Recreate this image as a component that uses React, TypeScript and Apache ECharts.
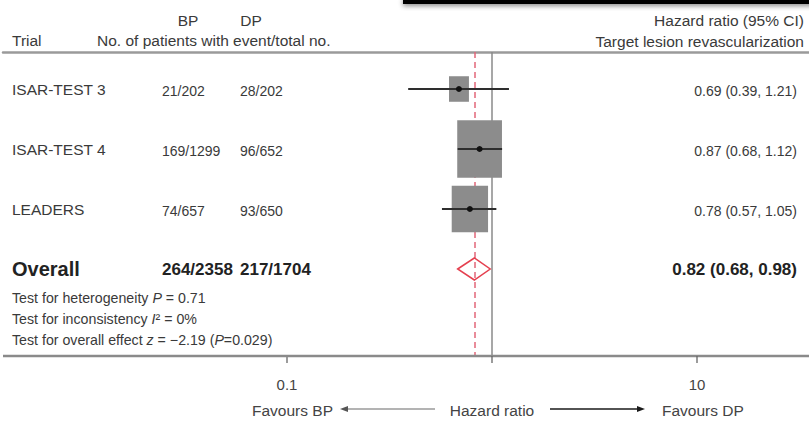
import React, { useEffect, useRef } from 'react';
import * as echarts from 'echarts';

// ---------- data ----------
const trials = ['ISAR-TEST 3', 'ISAR-TEST 4', 'LEADERS'];
const bpEvents = ['21/202', '169/1299', '74/657'];
const dpEvents = ['28/202', '96/652', '93/650'];
const hazardRatios = [0.69, 0.87, 0.78];
const ciLower = [0.39, 0.68, 0.57];
const ciUpper = [1.21, 1.12, 1.05];
const weights = [10.7, 53.8, 35.5];
const trialRows = [1, 2, 3];

const overallLabel = 'Overall';
const overallBp = '264/2358';
const overallDp = '217/1704';
const overallHr = 0.82;
const overallLower = 0.68;
const overallUpper = 0.98;
const overallRow = 4;

const axisTickValues = [0.1, 1, 10];
const axisTickLabels = ['0.1', '', '10'];

const footnotes = [
  'Test for heterogeneity {i|P} = 0.71',
  'Test for inconsistency {i|I}² = 0%',
  'Test for overall effect {i|z} = −2.19 ({i|P}=0.029)',
];

// ---------- styles ----------
const FONT = '"Liberation Sans", Arial, Helvetica, sans-serif';
const TEXT = '#3a3a3a';
const DARK = '#222';
const BOX_SCALE = 6.1;
const BOX_ASPECT = 1.28;
const TICK_LEN = 7;

const fmt = (v: number) => v.toFixed(2);

export default function App() {
  const ref = useRef<HTMLDivElement>(null);

  useEffect(() => {
    if (!ref.current) return;
    const chart = echarts.init(ref.current, null, { renderer: 'svg' });

    const allRows = [...trialRows, overallRow];

    const textSeries = {
      type: 'custom',
      xAxisIndex: 0,
      yAxisIndex: 0,
      silent: true,
      data: allRows.map((r) => [0, r]),
      encode: { x: 0, y: 1 },
      renderItem: (params: any, api: any) => {
        const i = params.dataIndex;
        const isOverall = i === trials.length;
        const row = api.value(1);
        const y = api.coord([0, row])[1];
        const xAt = (v: number) => api.coord([v, row])[0];
        const name = isOverall ? overallLabel : trials[i];
        const bp = isOverall ? overallBp : bpEvents[i];
        const dp = isOverall ? overallDp : dpEvents[i];
        const hr = isOverall ? overallHr : hazardRatios[i];
        const lo = isOverall ? overallLower : ciLower[i];
        const hi = isOverall ? overallUpper : ciUpper[i];
        const weight = isOverall ? 'bold' : 'normal';
        const color = isOverall ? DARK : TEXT;
        const numSize = isOverall ? 17 : 14;
        const dy = isOverall ? 0 : 2;
        return {
          type: 'group',
          children: [
            {
              type: 'text',
              style: {
                text: name, x: xAt(9), y, align: 'left', verticalAlign: 'middle',
                fontSize: isOverall ? 20 : 15.5, fontWeight: weight, fontFamily: FONT, fill: color,
              },
            },
            {
              type: 'text',
              style: {
                text: bp, x: xAt(159), y: y + dy, align: 'left', verticalAlign: 'middle',
                fontSize: numSize, fontWeight: weight, fontFamily: FONT, fill: color,
              },
            },
            {
              type: 'text',
              style: {
                text: dp, x: xAt(237), y: y + dy, align: 'left', verticalAlign: 'middle',
                fontSize: numSize, fontWeight: weight, fontFamily: FONT, fill: color,
              },
            },
            {
              type: 'text',
              style: {
                text: `${fmt(hr)} (${fmt(lo)}, ${fmt(hi)})`, x: xAt(794), y: y + dy,
                align: 'right', verticalAlign: 'middle',
                fontSize: numSize, fontWeight: weight, fontFamily: FONT, fill: color,
              },
            },
          ],
        };
      },
    };

    const forestSeries = {
      type: 'custom',
      xAxisIndex: 1,
      yAxisIndex: 1,
      silent: true,
      z: 3,
      data: trials.map((_, i) => [hazardRatios[i], ciLower[i], ciUpper[i], trialRows[i], weights[i]]),
      encode: { x: [0, 1, 2], y: 3 },
      renderItem: (params: any, api: any) => {
        const row = api.value(3);
        const c = api.coord([api.value(0), row]);
        const l = api.coord([api.value(1), row]);
        const h = api.coord([api.value(2), row]);
        const w = BOX_SCALE * Math.sqrt(api.value(4));
        const hh = w * BOX_ASPECT;
        return {
          type: 'group',
          children: [
            { type: 'rect', shape: { x: c[0] - w / 2, y: c[1] - hh / 2, width: w, height: hh }, style: { fill: '#8c8c8c' } },
            { type: 'line', shape: { x1: l[0], y1: l[1], x2: h[0], y2: h[1] }, style: { stroke: '#2e2e2e', lineWidth: 2 } },
            { type: 'circle', shape: { cx: c[0], cy: c[1], r: 3 }, style: { fill: '#111' } },
          ],
        };
      },
      markLine: {
        silent: true,
        z: 1,
        symbol: ['none', 'none'],
        label: { show: false },
        data: [
          { xAxis: 1, lineStyle: { color: '#8a8a8a', width: 1.5, type: 'solid' } },
          { xAxis: overallHr, lineStyle: { color: '#e2677a', width: 1.5, type: [6, 4] } },
        ],
      },
    };

    const diamondSeries = {
      type: 'custom',
      xAxisIndex: 1,
      yAxisIndex: 1,
      silent: true,
      z: 4,
      data: [[overallHr, overallLower, overallUpper, overallRow]],
      encode: { x: [0, 1, 2], y: 3 },
      renderItem: (params: any, api: any) => {
        const row = api.value(3);
        const c = api.coord([api.value(0), row]);
        const l = api.coord([api.value(1), row]);
        const h = api.coord([api.value(2), row]);
        const half = 11;
        return {
          type: 'polygon',
          shape: { points: [[l[0], c[1]], [c[0], c[1] - half], [h[0], c[1]], [c[0], c[1] + half]] },
          style: { fill: 'none', stroke: '#e5404f', lineWidth: 1.5 },
        };
      },
    };

    // full-width axis line plus ticks hanging below it, placed by the log scale
    const tickSeries = {
      type: 'custom',
      xAxisIndex: 1,
      yAxisIndex: 1,
      silent: true,
      z: 5,
      data: axisTickValues.map((v) => [v, overallRow]),
      encode: { x: 0, y: 1 },
      renderItem: (params: any, api: any) => {
        const x = api.coord([api.value(0), api.value(1)])[0];
        const y0 = params.coordSys.y + params.coordSys.height;
        const children: any[] = [
          {
            type: 'line',
            shape: { x1: x, y1: y0, x2: x, y2: y0 + TICK_LEN },
            style: { stroke: '#666', lineWidth: 1.3 },
          },
        ];
        if (params.dataIndex === 0) {
          children.push({
            type: 'line',
            shape: { x1: 3, y1: y0, x2: api.getWidth(), y2: y0 },
            style: { stroke: '#8a8a8a', lineWidth: 2.5 },
          });
        }
        return { type: 'group', children };
      },
    };

    const yAxisCommon = { type: 'value', min: 0.3833, max: 5.45, inverse: true, show: false };

    const txt = (text: string, x: number, y: number, align: string, extra: any = {}) => ({
      type: 'text',
      silent: true,
      style: {
        text, x, y, align, verticalAlign: 'middle',
        fontSize: 15.5, fontFamily: FONT, fill: TEXT, ...extra,
      },
    });

    const option: any = {
      animation: false,
      backgroundColor: '#ffffff',
      grid: [
        { left: 3, right: 0, top: 52, bottom: 67, containLabel: false, outerBoundsMode: 'none' },
        { left: 287, right: 112, top: 52, bottom: 67, containLabel: false, outerBoundsMode: 'none' },
      ],
      xAxis: [
        {
          gridIndex: 0, type: 'value', min: 0, max: 806, position: 'bottom',
          axisLine: { show: false, onZero: false },
          axisTick: { show: false }, axisLabel: { show: false }, splitLine: { show: false },
        },
        {
          gridIndex: 1, type: 'log', logBase: 10, min: 0.1, max: 10, position: 'bottom',
          axisLine: { show: false, onZero: false },
          axisTick: { show: false },
          axisLabel: {
            margin: 21, fontSize: 15, color: '#444', fontFamily: FONT,
            formatter: (v: number) => {
              let best = 0;
              axisTickValues.forEach((t, k) => {
                if (Math.abs(Math.log10(t) - Math.log10(v)) < Math.abs(Math.log10(axisTickValues[best]) - Math.log10(v))) best = k;
              });
              return axisTickLabels[best];
            },
          },
          splitLine: { show: false },
          name: 'Hazard ratio', nameLocation: 'middle', nameGap: 46,
          nameTextStyle: { fontSize: 15.5, color: '#444', fontFamily: FONT },
        },
        {
          gridIndex: 0, type: 'value', min: 0, max: 806, position: 'top',
          axisLine: { show: true, onZero: false, lineStyle: { color: '#9a9a9a', width: 2.5 } },
          axisTick: { show: false }, axisLabel: { show: false }, splitLine: { show: false },
        },
      ],
      yAxis: [
        { ...yAxisCommon, gridIndex: 0 },
        { ...yAxisCommon, gridIndex: 1 },
      ],
      series: [textSeries, forestSeries, diamondSeries, tickSeries],
      graphic: [
        {
          type: 'rect', silent: true,
          shape: { x: 403, y: -3, width: 420, height: 7 },
          style: { fill: '#000', shadowBlur: 5, shadowColor: 'rgba(0,0,0,0.45)', shadowOffsetY: 2 },
        },
        txt('BP', 188, 20, 'center'),
        txt('DP', 251, 20, 'center'),
        txt('Trial', 12, 40, 'left'),
        txt('No. of patients with event/total no.', 97, 40, 'left'),
        txt('Hazard ratio (95% CI)', 804, 20, 'right'),
        txt('Target lesion revascularization', 804, 41, 'right'),
        ...footnotes.map((f, k) =>
          txt(f, 12, 298 + k * 21, 'left', {
            fontSize: 14.2,
            rich: { i: { fontStyle: 'italic', fontSize: 14.2, fontFamily: FONT, fill: TEXT } },
          })
        ),
        txt('Favours BP', 252, 410, 'left', { fill: '#444' }),
        txt('Favours DP', 662, 410, 'left', { fill: '#444' }),
        {
          type: 'line', silent: true,
          shape: { x1: 435, y1: 409, x2: 345, y2: 409 },
          style: { stroke: '#9a9a9a', lineWidth: 1.5 },
        },
        {
          type: 'polygon', silent: true,
          shape: { points: [[340, 409], [348, 406], [348, 412]] },
          style: { fill: '#555' },
        },
        {
          type: 'line', silent: true,
          shape: { x1: 550, y1: 409, x2: 640, y2: 409 },
          style: { stroke: '#1a1a1a', lineWidth: 1.5 },
        },
        {
          type: 'polygon', silent: true,
          shape: { points: [[645, 409], [637, 406], [637, 412]] },
          style: { fill: '#1a1a1a' },
        },
      ],
    };

    chart.setOption(option);
    return () => chart.dispose();
  }, []);

  return (
    <div
      ref={ref}
      style={{ position: 'fixed', left: 0, top: 0, width: 809, height: 423, background: '#fff' }}
    />
  );
}
